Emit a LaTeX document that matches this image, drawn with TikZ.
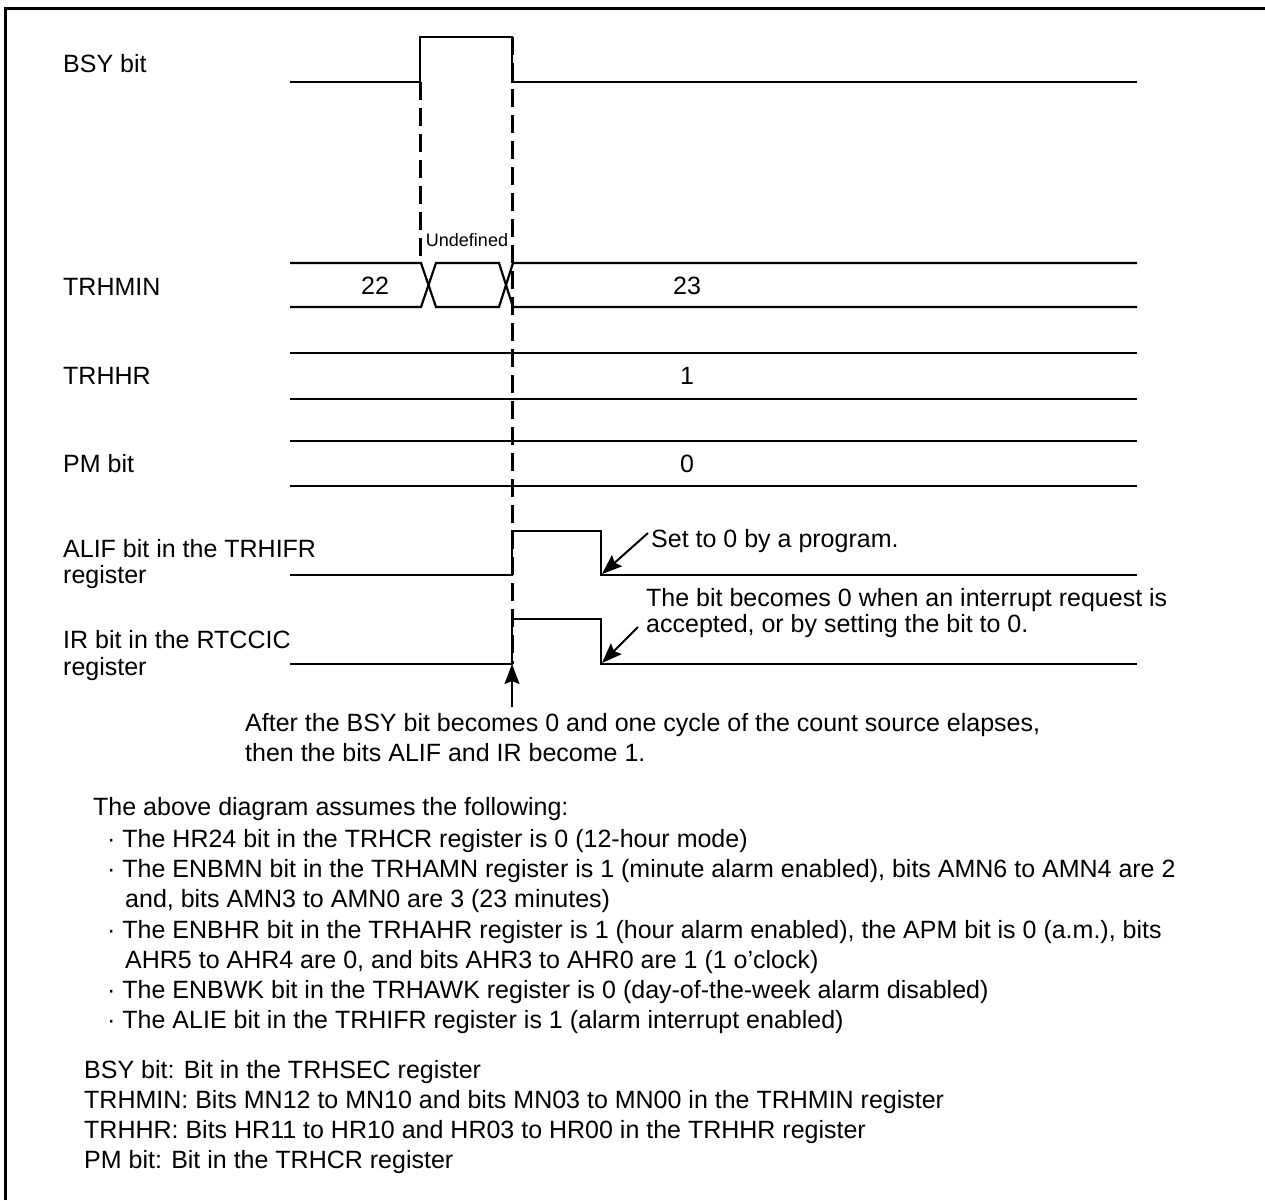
\documentclass[tikz,border=0pt]{standalone}
\usepackage{fontspec}
\setmainfont{Liberation Sans}
\usetikzlibrary{arrows.meta}
\begin{document}
\begin{tikzpicture}[x=1pt,y=-1pt,
  wave/.style={line width=2.2pt, line join=miter},
  dsh/.style={line width=3pt, dash pattern=on 18pt off 8pt},
  frm/.style={line width=3pt},
  lbl/.style={anchor=base west, inner sep=0pt, font=\fontsize{25}{30}\selectfont},
  val/.style={anchor=base, inner sep=0pt, font=\fontsize{25}{30}\selectfont},
  small/.style={anchor=base, inner sep=0pt, font=\fontsize{18}{21}\selectfont},
  arr/.style={line width=2pt, -{Stealth[length=20pt, width=15pt, inset=3pt]}}]
\useasboundingbox (0,0) rectangle (1265,1200);
% frame
\draw[frm] (5,1200) -- (5,8) -- (1265,8);
% BSY
\draw[wave] (290,82) -- (420,82) -- (420,37) -- (512,37) -- (512,82) -- (1137,82);
% TRHMIN
\draw[wave] (290,263) -- (421,263) -- (436,307) -- (499,307) -- (513,263) -- (1137,263);
\draw[wave] (290,307) -- (421,307) -- (436,263) -- (499,263) -- (513,307) -- (1137,307);
% TRHHR
\draw[wave] (290,353) -- (1137,353);
\draw[wave] (290,399) -- (1137,399);
% PM
\draw[wave] (290,441) -- (1137,441);
\draw[wave] (290,486) -- (1137,486);
% ALIF
\draw[wave] (290,575) -- (512,575) -- (512,531) -- (601,531) -- (601,575) -- (1137,575);
% IR
\draw[wave] (290,664) -- (512,664) -- (512,619) -- (601,619) -- (601,664) -- (1137,664);
% dashed markers
\draw[dsh] (420,82) -- (420,263);
\draw[dsh] (512,37) -- (512,664);
% arrows
\coordinate (alifA) at (648,533);
\coordinate (alifB) at (602,574);
\coordinate (irA) at (638,627);
\coordinate (irB) at (602,663);
\coordinate (upA) at (512,707);
\coordinate (upB) at (512,664);
\draw[arr] (alifA) -- (alifB);
\draw[arr] (irA) -- (irB);
\draw[arr] (upA) -- (upB);
% labels
\node[lbl] (lbsy) at (63,72) {BSY bit};
\node[lbl] (lmin) at (63,295) {TRHMIN};
\node[lbl] (lhr) at (63,384) {TRHHR};
\node[lbl] (lpm) at (63,472) {PM bit};
\node[lbl] (lalif1) at (63,557) {ALIF bit in the TRHIFR};
\node[lbl] (lalif2) at (63,583) {register};
\node[lbl] (lir1) at (63,648) {IR bit in the RTCCIC};
\node[lbl] (lir2) at (63,675) {register};
% values
\node[small] (undef) at (467,246) {Undefined};
\node[val] (v22) at (375,294) {22};
\node[val] (v23) at (687,294) {23};
\node[val] (v1) at (687,384) {1};
\node[val] (v0) at (687,472) {0};
% annotations
\node[lbl] (aset) at (651,547) {Set to 0 by a program.};
\node[lbl] (air1) at (646,606) {The bit becomes 0 when an interrupt request is};
\node[lbl] (air2) at (646,632) {accepted, or by setting the bit to 0.};
\node[lbl] (aft1) at (245,731) {After the BSY bit becomes 0 and one cycle of the count source elapses,};
\node[lbl] (aft2) at (245,761) {then the bits ALIF and IR become 1.};
% notes
\node[lbl] (n0) at (93,815) {The above diagram assumes the following:};
\node[lbl] (n1) at (107,847) {\textperiodcentered\ The HR24 bit in the TRHCR register is 0 (12-hour mode)};
\node[lbl] (n2) at (107,877) {\textperiodcentered\ The ENBMN bit in the TRHAMN register is 1 (minute alarm enabled), bits AMN6 to AMN4 are 2};
\node[lbl] (n3) at (125,907) {and, bits AMN3 to AMN0 are 3 (23 minutes)};
\node[lbl] (n4) at (107,938) {\textperiodcentered\ The ENBHR bit in the TRHAHR register is 1 (hour alarm enabled), the APM bit is 0 (a.m.), bits};
\node[lbl] (n5) at (125,968) {AHR5 to AHR4 are 0, and bits AHR3 to AHR0 are 1 (1 o’clock)};
\node[lbl] (n6) at (107,998) {\textperiodcentered\ The ENBWK bit in the TRHAWK register is 0 (day-of-the-week alarm disabled)};
\node[lbl] (n7) at (107,1028) {\textperiodcentered\ The ALIE bit in the TRHIFR register is 1 (alarm interrupt enabled)};
\node[lbl] (d1) at (84,1078) {BSY bit: Bit in the TRHSEC register};
\node[lbl] (d2) at (84,1108) {TRHMIN: Bits MN12 to MN10 and bits MN03 to MN00 in the TRHMIN register};
\node[lbl] (d3) at (84,1138) {TRHHR: Bits HR11 to HR10 and HR03 to HR00 in the TRHHR register};
\node[lbl] (d4) at (84,1168) {PM bit: Bit in the TRHCR register};
\end{tikzpicture}
\end{document}
